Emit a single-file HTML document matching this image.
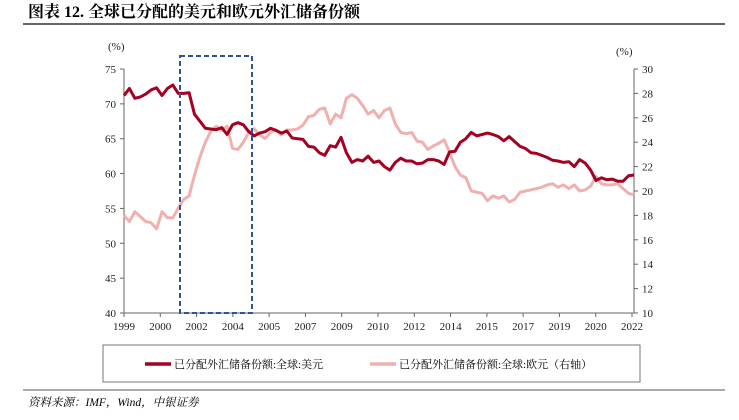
<!DOCTYPE html>
<html><head><meta charset="utf-8"><style>
body{margin:0;background:#fff;width:739px;height:415px;overflow:hidden;font-family:"Liberation Serif","Noto Serif CJK SC",serif}
</style></head><body>
<svg width="739" height="415" xmlns="http://www.w3.org/2000/svg">
<text x="28" y="17" font-size="16" font-weight="bold" font-family="Liberation Serif,'Noto Serif CJK SC',serif">图表 12. 全球已分配的美元和欧元外汇储备份额</text>
<line x1="23" y1="24" x2="725" y2="24" stroke="#333" stroke-width="1.5"/>
<g id="axes" font-size="11" fill="#222"></g>
<g id="plot"></g>
<rect x="103" y="345" width="537" height="37" fill="none" stroke="#777" stroke-width="1"/>
<g><line x1="145" y1="364" x2="171" y2="364" stroke="#a50021" stroke-width="3.5"/><text x="174" y="368" font-size="11" font-family="Liberation Serif,'Noto Serif CJK SC',serif">已分配外汇储备份额:全球:美元</text></g>
<g><line x1="370" y1="364" x2="396" y2="364" stroke="#f0b0ae" stroke-width="3.5"/><text x="399" y="368" font-size="11" font-family="Liberation Serif,'Noto Serif CJK SC',serif">已分配外汇储备份额:全球:欧元（右轴）</text></g>
<line x1="23" y1="390" x2="725" y2="390" stroke="#777" stroke-width="1.2"/>
<text x="28" y="406" font-size="11.5" font-style="italic" font-family="Liberation Serif,'Noto Serif CJK SC',serif">资料来源：IMF，Wind，中银证券</text>
</svg>
<script>
const xLabels=["1999","2000","2002","2004","2005","2007","2009","2010","2012","2014","2015","2017","2019","2020","2022"];
const leftTicks=[40,45,50,55,60,65,70,75];
const rightTicks=[10,12,14,16,18,20,22,24,26,28,30];
const usd=[71.2,72.2,70.8,71.0,71.4,72.0,72.3,71.2,72.2,72.7,71.5,71.5,71.6,68.5,67.5,66.5,66.4,66.3,66.6,65.6,67.0,67.3,67.0,66.0,65.4,65.8,66.0,66.5,66.2,65.8,66.1,65.1,65.0,64.9,63.9,63.8,63.0,62.6,64.0,63.8,65.2,63.0,61.6,62.0,61.8,62.5,61.6,61.8,61.0,60.5,61.6,62.2,61.8,61.8,61.4,61.5,62.0,62.0,61.8,61.3,63.1,63.2,64.5,65.0,65.9,65.4,65.6,65.8,65.6,65.3,64.7,65.3,64.6,63.9,63.6,63.0,62.9,62.6,62.3,61.9,61.8,61.6,61.7,61.0,62.0,61.5,60.5,59.0,59.4,59.1,59.2,58.9,58.9,59.7,59.8];
const eur=[18.0,17.5,18.3,17.9,17.5,17.4,16.9,18.3,17.8,17.8,18.6,19.3,19.6,21.3,22.8,24.0,24.9,25.3,25.0,25.3,23.5,23.4,24.0,24.8,25.1,24.6,24.3,24.8,25.0,24.6,25.0,25.0,25.1,25.4,26.1,26.2,26.7,26.8,25.5,26.3,26.0,27.6,27.9,27.6,27.0,26.3,26.6,26.0,26.6,26.8,25.5,24.8,24.7,24.8,24.1,24.0,23.4,23.7,23.9,24.2,23.2,22.0,21.3,21.1,20.0,19.9,19.8,19.2,19.6,19.4,19.6,19.1,19.3,19.9,20.0,20.1,20.2,20.3,20.5,20.6,20.3,20.5,20.2,20.5,20.0,20.1,20.4,21.2,20.6,20.5,20.5,20.6,20.2,19.8,19.7];
const NS="http://www.w3.org/2000/svg";
const X0=124,X1=634,Y0=313,Y1=69;
const yL=v=>Y0-(v-40)/35*(Y0-Y1);
const yR=v=>Y0-(v-10)/20*(Y0-Y1);
const xI=(i,n)=>X0+i*(X1-X0)/(n-1);
function mk(tag,attrs,parent){const e=document.createElementNS(NS,tag);for(const k in attrs)e.setAttribute(k,attrs[k]);parent.appendChild(e);return e;}
const axes=document.getElementById('axes'),plot=document.getElementById('plot');
let a=mk('line',{x1:X0,y1:Y1,x2:X0,y2:Y0,stroke:'#666'},axes);


a=mk('line',{x1:X1,y1:Y1,x2:X1,y2:Y0,stroke:'#666'},axes);


a=mk('line',{x1:X0,y1:Y0,x2:X1,y2:Y0,stroke:'#666'},axes);


leftTicks.forEach(v=>{mk('line',{x1:X0-4,x2:X0,y1:yL(v),y2:yL(v),stroke:'#666'},axes);const t=mk('text',{x:X0-8,y:yL(v)+4,'text-anchor':'end'},axes);t.textContent=v;

});
rightTicks.forEach(v=>{mk('line',{x1:X1,x2:X1+4,y1:yR(v),y2:yR(v),stroke:'#666'},axes);const t=mk('text',{x:X1+8,y:yR(v)+4},axes);t.textContent=v;

});
xLabels.forEach((l,i)=>{const x=X0+i*(632-X0)/(xLabels.length-1);mk('line',{x1:x,x2:x,y1:Y0,y2:Y0+4,stroke:'#666'},axes);const t=mk('text',{x:x,y:Y0+17,'text-anchor':'middle'},axes);t.textContent=l;

});
let u=mk('text',{x:108,y:50},axes);u.textContent='(%)';


u=mk('text',{x:616,y:55},axes);u.textContent='(%)';


function line(data,yf,color,name){const p=mk('polyline',{points:data.map((v,i)=>xI(i,data.length).toFixed(1)+','+yf(v).toFixed(1)).join(' '),fill:'none',stroke:color,'stroke-width':3,'stroke-linejoin':'round'},plot);

}
line(eur,yR,'#f0b0ae','eur-share-line');
line(usd,yL,'#a50021','usd-share-line');
const b=mk('rect',{x:180,y:56,width:72,height:257,fill:'none',stroke:'#2f5597','stroke-width':2,'stroke-dasharray':'5,3'},plot);


</script>
</body></html>
